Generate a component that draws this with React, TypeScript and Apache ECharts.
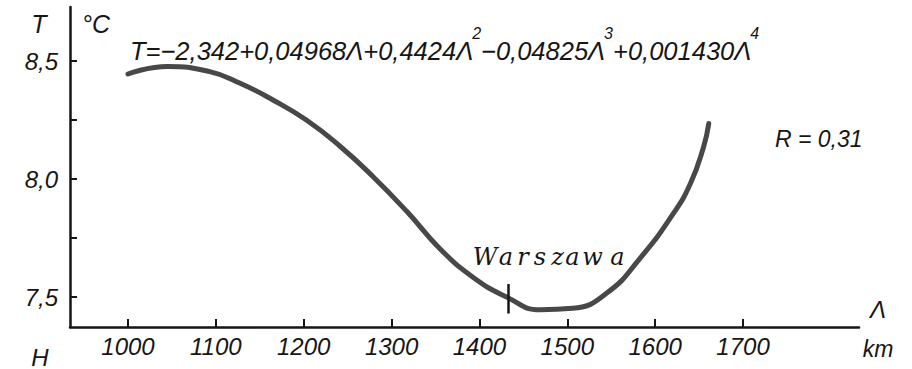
import React, { useEffect, useRef } from "react";
import * as echarts from "echarts";

// Distance along the profile (km) and smoothed mean annual temperature (°C)
const distanceKm = [1000, 1045, 1093, 1127, 1165, 1203, 1241, 1279, 1318, 1355, 1393, 1431, 1469, 1506, 1545, 1583, 1620, 1640, 1655, 1661];
const temperatureC = [8.445, 8.477, 8.455, 8.407, 8.335, 8.25, 8.14, 8.01, 7.86, 7.705, 7.583, 7.5, 7.446, 7.452, 7.517, 7.665, 7.85, 7.98, 8.135, 8.235];

const xTickValues = [1000, 1100, 1200, 1300, 1400, 1500, 1600, 1700];
const yTickValues = [7.5, 7.75, 8.0, 8.25, 8.5];
const yLabelValues = [7.5, 8.0, 8.5];

// Warsaw station position on the profile and extent of its marker
const warsawKm = 1433;
const warsawMarkTop = 7.555;
const warsawMarkBottom = 7.43;

const stationName = "Warszawa";
const correlationText = "R = 0,31";

const INK = "#161616";
const SANS = "'Liberation Sans', Arial, sans-serif";
const SERIF = "'DejaVu Serif', 'Liberation Serif', serif";

export default function App() {
  const ref = useRef<HTMLDivElement>(null);

  useEffect(() => {
    if (!ref.current) return;
    const chart = echarts.init(ref.current, null, { renderer: "svg" });

    const points = distanceKm.map((d, i) => [d, temperatureC[i]]);

    // per-letter placement gives the wide letter spacing of the station name
    const letterX = [485, 506, 523, 540, 557.5, 572.5, 592.5, 617.5];
    const nameLetters = stationName.split("").map((ch, i) => ({
      type: "text",
      x: letterX[i],
      y: 257,
      style: {
        text: ch,
        fill: INK,
        fontSize: 24,
        fontStyle: "italic",
        fontFamily: SERIF,
        align: "center",
        verticalAlign: "middle",
        textAlign: "center",
        textVerticalAlign: "middle",
      },
    }));

    const label = (text: string, x: number, y: number, size = 24, align = "left") => ({
      type: "text",
      x,
      y,
      style: {
        text,
        fill: INK,
        fontSize: size,
        fontStyle: "italic",
        fontFamily: SANS,
        align,
        verticalAlign: "middle",
        textAlign: align,
        textVerticalAlign: "middle",
      },
    });

    const supStyle = {
      fontSize: 16,
      fontFamily: SANS,
      fontStyle: "italic",
      fill: INK,
      verticalAlign: "bottom",
      padding: [0, 0, 23, -1],
    };

    chart.setOption({
      animation: false,
      backgroundColor: "#ffffff",
      grid: { left: 70, right: 53, top: 7, bottom: 42 },
      xAxis: {
        type: "value",
        min: 934,
        max: 1832,
        axisLine: { show: true, lineStyle: { color: INK, width: 2.5 } },
        axisTick: {
          show: true,
          inside: true,
          length: 8,
          customValues: xTickValues,
          lineStyle: { color: INK, width: 2 },
        },
        axisLabel: {
          customValues: xTickValues,
          margin: 7,
          color: INK,
          fontSize: 24,
          fontStyle: "italic",
          fontFamily: SANS,
          formatter: (v: number) => String(v),
        },
        splitLine: { show: false },
      },
      yAxis: {
        type: "value",
        min: 7.373,
        max: 8.729,
        axisLine: { show: true, lineStyle: { color: INK, width: 2.5 } },
        axisTick: {
          show: true,
          inside: true,
          length: 7,
          customValues: yTickValues,
          lineStyle: { color: INK, width: 2 },
        },
        axisLabel: {
          customValues: yLabelValues,
          margin: 12,
          color: INK,
          fontSize: 24,
          fontStyle: "italic",
          fontFamily: SANS,
          formatter: (v: number) => v.toFixed(1).replace(".", ","),
        },
        splitLine: { show: false },
      },
      series: [
        {
          type: "line",
          data: points,
          smooth: 0.5,
          symbol: "none",
          lineStyle: { color: "#484848", width: 5, cap: "round" },
          silent: true,
          markLine: {
            silent: true,
            symbol: ["none", "none"],
            label: { show: false },
            lineStyle: { color: INK, width: 2.5, type: "solid" },
            data: [[{ coord: [warsawKm, warsawMarkTop] }, { coord: [warsawKm, warsawMarkBottom] }]],
          },
        },
      ],
      graphic: [
        label("T", 39, 24, 25, "center"),
        label("°C", 96, 24, 25, "center"),
        label("H", 40, 357, 24, "center"),
        label("km", 878, 349, 23, "center"),
        label("Λ", 878, 309, 24, "center"),
        label(correlationText, 775, 139, 23, "left"),
        {
          type: "text",
          x: 130,
          y: 64,
          style: {
            text:
              "{n|T=−2,342+0,04968Λ+0,4424Λ}{s|2}{n|−0,04825Λ}{s|3}{n|+0,001430Λ}{s|4}",
            fill: INK,
            fontFamily: SANS,
            fontStyle: "italic",
            fontSize: 25.5,
            align: "left",
            verticalAlign: "bottom",
            textAlign: "left",
            textVerticalAlign: "bottom",
            rich: {
              n: { fontSize: 25.5, fontFamily: SANS, fontStyle: "italic", fill: INK, verticalAlign: "bottom" },
              s: supStyle,
            },
          },
        },
        ...nameLetters,
      ],
    });

    return () => chart.dispose();
  }, []);

  return (
    <div
      ref={ref}
      style={{ position: "fixed", left: 0, top: 0, width: 912, height: 369 }}
    />
  );
}
